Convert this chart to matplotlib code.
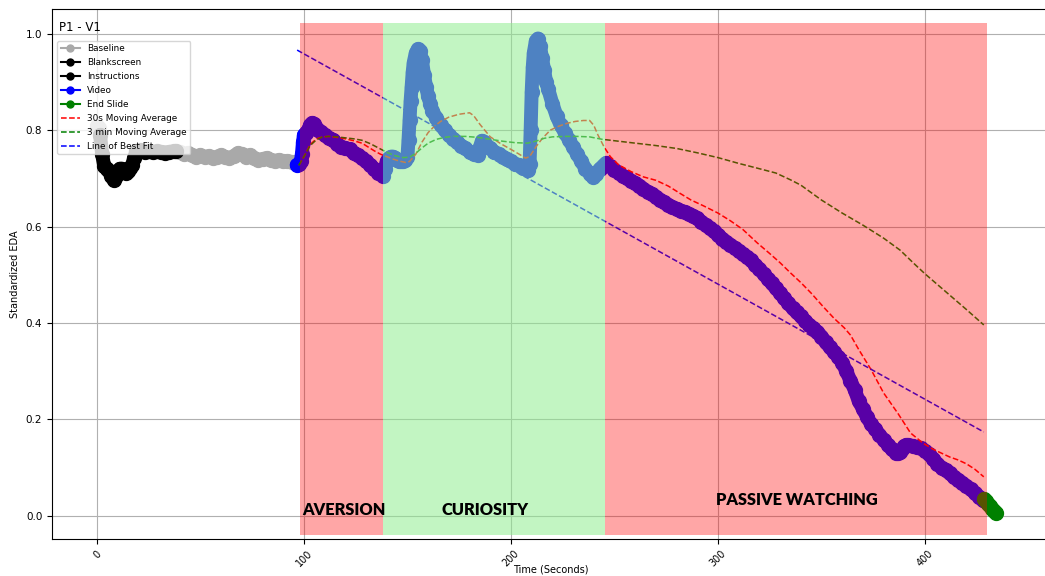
import numpy as np
import matplotlib
matplotlib.use('Agg')
import matplotlib.pyplot as plt
from matplotlib.lines import Line2D

# --- Data ---
# Baseline: short piece at the start, then the resting period (nan breaks the line)
baseline_t = [0.0, 0.8, 1.5, np.nan, 38, 40, 42, 44, 46, 48, 50, 52, 54, 56, 58, 60, 62, 64, 66,
              68, 70, 72, 74, 76, 78, 80, 82, 84, 86, 88, 90, 92, 94, 96]
baseline_y = [0.808, 0.805, 0.795, np.nan, 0.756, 0.754, 0.750, 0.752, 0.748, 0.745, 0.748, 0.744,
              0.746, 0.742, 0.745, 0.748, 0.744, 0.742, 0.746, 0.752, 0.750, 0.745, 0.748, 0.742,
              0.738, 0.740, 0.742, 0.738, 0.736, 0.738, 0.735, 0.736, 0.734, 0.733]

blank_t = [1.5, 2.5, 3.5, 5, 6, 7, 8, 9, 10, 11, 12, 13, 14, 15, 16, 17, 18, 19]
blank_y = [0.790, 0.750, 0.725, 0.720, 0.715, 0.705, 0.697, 0.705, 0.715, 0.720, 0.720, 0.715,
           0.712, 0.715, 0.722, 0.728, 0.742, 0.755]

instr_t = [19, 21, 23, 25, 27, 29, 31, 33, 35, 37, 38]
instr_y = [0.757, 0.758, 0.755, 0.757, 0.754, 0.756, 0.755, 0.753, 0.755, 0.756, 0.756]

video_t = [96.5, 97.5, 98.5, 99, 99.5, 100, 101, 102, 103, 104, 105, 106, 107, 108, 110, 112, 114,
           116, 118, 120, 122, 124, 126, 128, 130, 132, 134, 136, 138, 139, 140, 141, 142, 143, 144,
           145, 146, 147, 148, 149, 150, 150.5, 151, 151.5, 152, 152.5, 153, 154, 155, 156, 157, 158,
           159, 160, 161, 162, 164, 166, 168, 170, 172, 174, 176, 178, 180, 182, 184, 185, 186, 187,
           188, 190, 192, 194, 196, 198, 200, 202, 204, 206, 208, 209, 209.5, 210, 210.5, 211, 212,
           213, 214, 215, 216, 217, 218, 220, 222, 224, 226, 228, 230, 232, 234, 236, 238, 239.5,
           241, 243, 245, 246, 248, 250, 252, 254, 256, 258, 260, 262, 264, 266, 268, 270, 272, 274,
           276, 278, 280, 282, 284, 286, 288, 290, 292, 294, 296, 298, 300, 302, 304, 306, 308, 310,
           312, 314, 316, 318, 320, 322, 324, 326, 328, 330, 332, 334, 336, 338, 340, 342, 344, 346,
           348, 350, 352, 354, 356, 358, 360, 362, 364, 366, 368, 370, 372, 374, 376, 378, 380, 382,
           384, 386, 387, 388, 389, 390, 391, 392, 394, 396, 398, 400, 402, 404, 406, 408, 410, 412,
           414, 416, 418, 420, 422, 424, 426, 428, 429]
video_y = [0.728, 0.730, 0.735, 0.750, 0.775, 0.790, 0.795, 0.800, 0.810, 0.815, 0.812, 0.805,
           0.800, 0.797, 0.790, 0.783, 0.780, 0.772, 0.765, 0.763, 0.760, 0.752, 0.748, 0.742,
           0.735, 0.728, 0.720, 0.712, 0.705, 0.720, 0.735, 0.742, 0.745, 0.745, 0.742, 0.738,
           0.735, 0.735, 0.735, 0.738, 0.745, 0.780, 0.820, 0.860, 0.890, 0.920, 0.940, 0.960,
           0.968, 0.965, 0.945, 0.915, 0.890, 0.870, 0.855, 0.840, 0.825, 0.810, 0.800, 0.790,
           0.782, 0.775, 0.768, 0.762, 0.755, 0.750, 0.748, 0.765, 0.778, 0.775, 0.770, 0.762,
           0.755, 0.750, 0.745, 0.740, 0.735, 0.730, 0.727, 0.722, 0.718, 0.730, 0.800, 0.880,
           0.930, 0.960, 0.985, 0.990, 0.975, 0.950, 0.925, 0.900, 0.885, 0.855, 0.830, 0.810,
           0.795, 0.780, 0.765, 0.750, 0.735, 0.720, 0.710, 0.703, 0.710, 0.720, 0.728, 0.732,
           0.725, 0.718, 0.712, 0.705, 0.700, 0.695, 0.690, 0.685, 0.678, 0.672, 0.668, 0.662,
           0.655, 0.650, 0.645, 0.640, 0.637, 0.633, 0.630, 0.626, 0.622, 0.617, 0.610, 0.603,
           0.597, 0.590, 0.583, 0.575, 0.568, 0.562, 0.556, 0.550, 0.543, 0.537, 0.530, 0.520,
           0.512, 0.502, 0.492, 0.482, 0.472, 0.462, 0.451, 0.441, 0.431, 0.422, 0.414, 0.405,
           0.396, 0.389, 0.382, 0.372, 0.360, 0.350, 0.340, 0.330, 0.318, 0.300, 0.280, 0.262,
           0.238, 0.222, 0.205, 0.190, 0.180, 0.168, 0.158, 0.148, 0.138, 0.131, 0.130, 0.132,
           0.138, 0.144, 0.147, 0.147, 0.145, 0.142, 0.140, 0.135, 0.128, 0.118, 0.108, 0.100,
           0.095, 0.088, 0.080, 0.075, 0.068, 0.062, 0.055, 0.048, 0.040, 0.032, 0.030]

end_t = [428.5, 429.5, 430.5, 431.5, 432.5, 433.5, 434.5]
end_y = [0.035, 0.030, 0.025, 0.020, 0.015, 0.010, 0.006]

ma30_t = [97.5, 100, 103, 106, 109, 112, 116, 120, 124, 128, 131, 134, 137, 140, 143, 146, 149,
          151, 154, 157, 160, 163, 166, 170, 175, 180, 182, 185, 190, 195, 200, 204, 207, 209, 212,
          215, 219, 223, 227, 231, 235, 238, 240, 242, 245, 248, 252, 258, 264, 270, 276, 282, 287,
          293, 300, 306, 312, 319, 325, 330, 335, 340, 345, 351, 356, 361, 364, 368, 374, 380, 387,
          393, 399, 404, 408, 412, 416, 420, 424, 428.4]
ma30_y = [0.727, 0.745, 0.770, 0.782, 0.786, 0.787, 0.785, 0.782, 0.778, 0.773, 0.765, 0.757,
          0.750, 0.745, 0.740, 0.736, 0.733, 0.735, 0.750, 0.775, 0.795, 0.808, 0.818, 0.827,
          0.833, 0.836, 0.830, 0.812, 0.786, 0.772, 0.760, 0.750, 0.742, 0.745, 0.765, 0.782,
          0.800, 0.808, 0.814, 0.818, 0.820, 0.820, 0.810, 0.790, 0.765, 0.745, 0.728, 0.714,
          0.703, 0.696, 0.684, 0.668, 0.655, 0.643, 0.628, 0.612, 0.594, 0.566, 0.544, 0.525,
          0.504, 0.484, 0.462, 0.433, 0.410, 0.390, 0.375, 0.345, 0.303, 0.255, 0.212, 0.172,
          0.151, 0.138, 0.130, 0.122, 0.116, 0.108, 0.097, 0.081]

ma3m_t = [97.5, 100, 103, 106, 109, 112, 116, 120, 124, 128, 132, 136, 140, 144, 148, 151, 154, 157,
          160, 164, 168, 172, 178, 184, 190, 196, 202, 208, 212, 216, 220, 226, 232, 238, 244, 250,
          260, 270, 280, 290, 300, 310, 320, 328, 335, 340, 350, 360, 370, 380, 388, 395, 400, 410,
          420, 428.4]
ma3m_y = [0.727, 0.745, 0.768, 0.780, 0.786, 0.787, 0.786, 0.784, 0.782, 0.779, 0.772, 0.763,
          0.754, 0.747, 0.743, 0.744, 0.752, 0.763, 0.773, 0.781, 0.785, 0.787, 0.787, 0.785,
          0.781, 0.777, 0.774, 0.773, 0.777, 0.783, 0.786, 0.787, 0.787, 0.786, 0.781, 0.778,
          0.773, 0.768, 0.762, 0.753, 0.743, 0.731, 0.720, 0.711, 0.697, 0.686, 0.655, 0.628,
          0.603, 0.576, 0.551, 0.522, 0.502, 0.465, 0.428, 0.396]

fit_t = [96.7, 428.4]
fit_y = [0.966, 0.174]

# phases
phase_start = [98.0, 138.4, 245.3]
phase_end = [138.4, 245.3, 430.0]
phase_name = ['AVERSION', 'CURIOSITY', 'PASSIVE WATCHING']
phase_color = ['red', 'lightgreen', 'red']
phase_alpha = [0.35, 0.55, 0.35]
label_x = [119.5, 187.6, 338.0]
label_y = [0.012, 0.012, 0.033]

# --- Plot ---
fig = plt.figure(figsize=(10.45, 5.76), dpi=100)
ax = fig.add_axes([0.0498, 0.0642, 0.955, 0.92])

band = dict(marker='o', ms=10, lw=10, solid_capstyle='round', zorder=2)
ax.plot(baseline_t, baseline_y, color='darkgray', **band)
ax.plot(blank_t, blank_y, color='black', **band)
ax.plot(instr_t, instr_y, color='black', **band)
ax.plot(video_t, video_y, color='blue', **band)
ax.plot(end_t, end_y, color='green', **band)

ax.plot(ma30_t, ma30_y, color='red', ls='--', lw=1.1, zorder=2.5)
ax.plot(ma3m_t, ma3m_y, color='green', ls='--', lw=1.1, zorder=2.5)
ax.plot(fit_t, fit_y, color='blue', ls='--', lw=1.1, zorder=2.5)

for x0, x1, c, a in zip(phase_start, phase_end, phase_color, phase_alpha):
    ax.fill_between([x0, x1], -0.039, 1.022, color=c, alpha=a, lw=0, zorder=3)

for name, lx, ly in zip(phase_name, label_x, label_y):
    ax.text(lx, ly, name, ha='center', va='center', fontsize=11.8, fontweight='heavy',
            family='Lato', zorder=4)

ax.set_xlim(-21.7, 460.4)
ax.set_ylim(-0.048, 1.051)
ax.set_xticks([0, 100, 200, 300, 400])
ax.set_yticks([0.0, 0.2, 0.4, 0.6, 0.8, 1.0])
ax.tick_params(axis='x', labelrotation=45, labelsize=7)
ax.tick_params(axis='y', labelsize=7.5)
ax.set_xlabel('Time (Seconds)', fontsize=7)
ax.xaxis.set_label_coords(0.5, -0.058)
ax.xaxis.label.set_va('center')
ax.set_ylabel('Standardized EDA', fontsize=7)
ax.grid(True, color='#b0b0b0', lw=0.8)

ax.text(0.007, 0.965, 'P1 - V1', transform=ax.transAxes, va='center', fontsize=8.5)

handles = [
    Line2D([0], [0], color='darkgray', marker='o', lw=1.5, ms=5),
    Line2D([0], [0], color='black', marker='o', lw=1.5, ms=5),
    Line2D([0], [0], color='black', marker='o', lw=1.5, ms=5),
    Line2D([0], [0], color='blue', marker='o', lw=1.5, ms=5),
    Line2D([0], [0], color='green', marker='o', lw=1.5, ms=5),
    Line2D([0], [0], color='red', ls='--', lw=1.1),
    Line2D([0], [0], color='green', ls='--', lw=1.1),
    Line2D([0], [0], color='blue', ls='--', lw=1.1),
]
labels = ['Baseline', 'Blankscreen', 'Instructions', 'Video', 'End Slide',
          '30s Moving Average', '3 min Moving Average', 'Line of Best Fit']
ax.legend(handles, labels, loc='upper left', bbox_to_anchor=(0.005, 0.94), borderaxespad=0,
          fontsize=6.4, labelspacing=0.55, handlelength=2.2)

fig.savefig('out.png', dpi=100)
